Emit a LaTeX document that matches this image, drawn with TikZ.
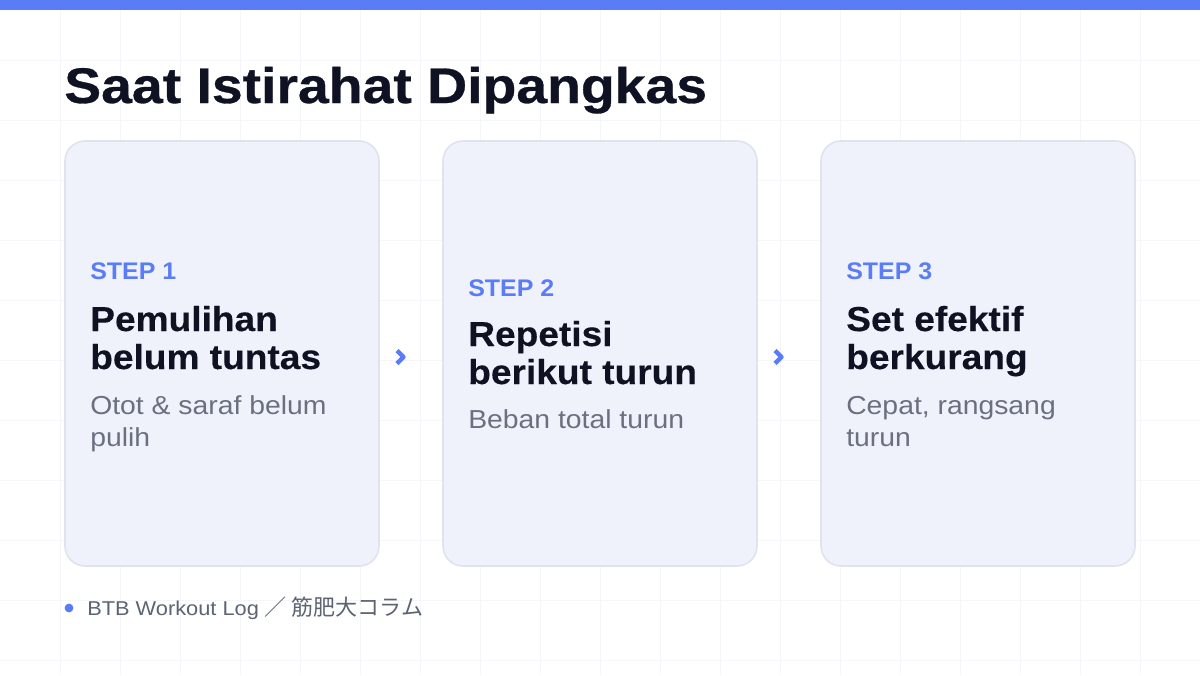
\documentclass[tikz,border=0pt]{standalone}
\usepackage{fontspec}
\usetikzlibrary{calc}
\setmainfont{Liberation Sans}
\newfontfamily\titlefont[FakeStretch=1.107,FakeBold=0.6]{Liberation Sans Bold}
\newfontfamily\headfont[FakeStretch=1.07,FakeBold=0.3]{Liberation Sans Bold}
\newfontfamily\stepfont[FakeStretch=1.04]{Liberation Sans Bold}
\newfontfamily\subfont[FakeStretch=1.09]{Liberation Sans}
\newfontfamily\cjkfont{Noto Sans CJK JP}
\definecolor{accent}{HTML}{5B7CF7}
\definecolor{ink}{HTML}{0F1222}
\definecolor{subgray}{HTML}{6B7080}
\definecolor{footgray}{HTML}{5E6373}
\definecolor{cardfill}{HTML}{F0F2FB}
\definecolor{cardline}{HTML}{DFE3EF}
\definecolor{gridc}{HTML}{F5F6F9}
\tikzset{
  card/.style={draw=cardline, fill=cardfill, line width=1.2pt, rounded corners=15pt,
    minimum width=235.5pt, minimum height=318.75pt, inner sep=0pt},
  steplbl/.style={anchor=base west, inner sep=0pt, text=accent, font=\fontsize{18}{18}\selectfont\stepfont},
  headlbl/.style={anchor=base west, inner sep=0pt, text=ink, font=\fontsize{26}{28.5}\selectfont\headfont},
  sublbl/.style={anchor=base west, inner sep=0pt, text=subgray, font=\fontsize{19.5}{19.5}\selectfont\subfont},
  chev/.style={draw=accent, line width=3.3pt, line join=round, line cap=butt},
}
\begin{document}
\begin{tikzpicture}[x=0.75pt, y=-0.75pt]
\useasboundingbox (0,0) rectangle (1200,675);
\fill[white] (0,0) rectangle (1200,675);
\foreach \gx in {60,120,...,1140} \draw[gridc, line width=0.75pt] (\gx,10) -- (\gx,675);
\foreach \gy in {60,120,...,660} \draw[gridc, line width=0.75pt] (0,\gy) -- (1200,\gy);
\fill[accent] (0,0) rectangle (1200,10);
\node[anchor=base west, inner sep=0pt, text=ink, font=\fontsize{37.5}{37.5}\selectfont\titlefont] (title) at (64,103) {Saat Istirahat Dipangkas};
\node[card] (c1) at (222,353.5) {};
\node[card] (c2) at (600,353.5) {};
\node[card] (c3) at (978,353.5) {};
% card 1
\node[steplbl] (s1) at (90,279) {STEP 1};
\node[headlbl] (h1a) at (90,331) {Pemulihan};
\node[headlbl] (h1b) at (90,369) {belum tuntas};
\node[sublbl] (t1a) at (90,414) {Otot \& saraf belum};
\node[sublbl] (t1b) at (90,446) {pulih};
% card 2
\node[steplbl] (s2) at (468,296) {STEP 2};
\node[headlbl] (h2a) at (468,346) {Repetisi};
\node[headlbl] (h2b) at (468,384) {berikut turun};
\node[sublbl] (t2a) at (468,428) {Beban total turun};
% card 3
\node[steplbl] (s3) at (846,279) {STEP 3};
\node[headlbl] (h3a) at (846,331) {Set efektif};
\node[headlbl] (h3b) at (846,369) {berkurang};
\node[sublbl] (t3a) at (846,414) {Cepat, rangsang};
\node[sublbl] (t3b) at (846,446) {turun};
% chevrons
\coordinate (m1) at ($(c1.east)!0.5!(c2.west)+(-10,3.5)$);
\coordinate (m2) at ($(c2.east)!0.5!(c3.west)+(-10,3.5)$);
\draw[chev] ($(m1)+(-4,-6.5)$) -- ($(m1)+(2.5,0)$) -- ($(m1)+(-4,6.5)$);
\draw[chev] ($(m2)+(-4,-6.5)$) -- ($(m2)+(2.5,0)$) -- ($(m2)+(-4,6.5)$);
% footer
\fill[accent] (69,608) circle (3.3pt);
\node[anchor=base west, inner sep=0pt, text=footgray, font=\fontsize{15}{15}\selectfont\subfont] (foot) at (87,615) {BTB Workout Log {\cjkfont\fontsize{16.5}{16.5}\selectfont ／ 筋肥大コラム}};
\end{tikzpicture}
\end{document}
